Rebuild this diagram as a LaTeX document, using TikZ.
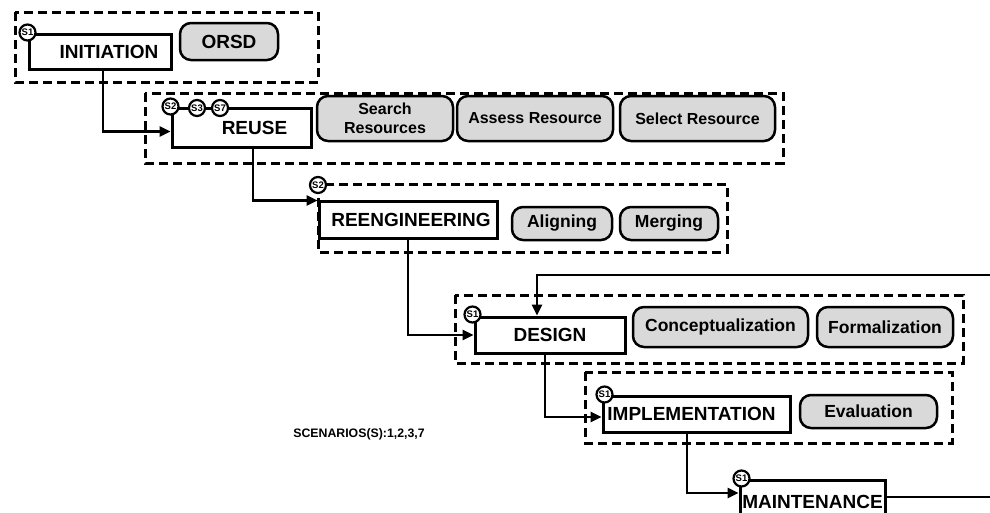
\documentclass[tikz,border=0pt]{standalone}
\usepackage{fontspec}
\setmainfont{Liberation Sans}
\usetikzlibrary{arrows.meta}
\definecolor{pillgray}{RGB}{217,217,217}
\begin{document}
\begin{tikzpicture}[x=1pt,y=-1pt,
  mainbox/.style={draw, line width=3pt, fill=white, inner sep=0pt, font=\fontsize{19}{19}\selectfont\bfseries},
  pill/.style={draw, line width=2.5pt, fill=pillgray, rounded corners=11pt, inner sep=0pt, align=center, font=\fontsize{17.5}{17.5}\selectfont\bfseries},
  pillsm/.style={pill, font=\fontsize{16}{19}\selectfont\bfseries},
  scen/.style={circle, draw, line width=2.2pt, fill=white, minimum size=16pt, inner sep=0pt, font=\fontsize{9.5}{9.5}\selectfont\bfseries},
  group/.style={draw, line width=3pt, dash pattern=on 9pt off 5pt},
  conn/.style={line width=2.5pt, -{Triangle[length=11pt,width=10pt]}}]
\useasboundingbox (0,0) rectangle (990,512);
% dashed groups
\draw[group] (15,12) rectangle (318,82);
\draw[group] (145,93) rectangle (783,163);
\draw[group] (318,184) rectangle (727,252);
\draw[group] (455,295) rectangle (963,363);
\draw[group] (585,372) rectangle (952,443);
% main boxes
\node[mainbox, minimum width=142, minimum height=35] (init) at (100,51.5) {\hspace*{18pt}INITIATION};
\node[mainbox, minimum width=139, minimum height=39] (reuse) at (241.5,127.5) {\hspace*{26pt}REUSE};
\node[mainbox, minimum width=178, minimum height=37] (reeng) at (408,219.5) {\hspace*{6pt}REENGINEERING};
\node[mainbox, minimum width=150, minimum height=36] (design) at (550,335) {DESIGN};
\node[mainbox, minimum width=187, minimum height=36] (impl) at (696.5,414) {IMPLEMENTATION\hspace*{10pt}};
\node[mainbox, minimum width=145, minimum height=44] (maint) at (812.5,502) {MAINTENANCE};
% activity pills
\node[pill, font=\fontsize{19}{19}\selectfont\bfseries, minimum width=98, minimum height=37] (orsd) at (229,41.5) {ORSD};
\node[pillsm, minimum width=136, minimum height=45] (search) at (385,118.5) {Search\\Resources};
\node[pillsm, minimum width=156, minimum height=45] (assess) at (535,118.5) {Assess Resource};
\node[pillsm, minimum width=155, minimum height=45] (select) at (697.5,118.5) {Select Resource};
\node[pill, minimum width=100, minimum height=33] (align) at (562,223.5) {Aligning};
\node[pill, minimum width=98, minimum height=33] (merge) at (669,223.5) {Merging};
\node[pill, minimum width=175, minimum height=40] (concept) at (720.5,327) {Conceptualization};
\node[pill, minimum width=136, minimum height=40] (formal) at (885,327) {Formalization};
\node[pill, minimum width=137, minimum height=33] (eval) at (868.5,411.5) {Evaluation};
% scenario markers
\node[scen] (s1a) at (init.north west) {S1};
\node[scen] (s2a) at (reuse.north west) {S2};
\node[scen] (s3a) at (197,108) {S3};
\node[scen] (s7a) at (220,108) {S7};
\node[scen] (s2b) at (318,185) {S2};
\node[scen] (s1b) at ([xshift=-1pt,yshift=1pt]design.north west) {S1};
\node[scen] (s1c) at ([xshift=3pt]impl.north west) {S1};
\node[scen] (s1d) at ([xshift=3pt]maint.north west) {S1};
% connectors
\draw[conn] ([xshift=3pt]init.south) |- ([yshift=-4pt]reuse.west);
\draw[conn] ([xshift=11.5pt]reuse.south) |- ([yshift=-1pt]reeng.north west);
\draw[conn] (reeng.south) |- (design.west);
\draw[conn] ([xshift=-5pt]design.south) |- ([yshift=-3pt]impl.west);
\draw[conn] ([xshift=-9.5pt]impl.south) |- ([yshift=9pt]maint.west);
\coordinate (fb1) at (1000,497);
\coordinate (fb2) at (1000,275);
\draw[conn] ([yshift=5pt]maint.east) -- (fb1) -- (fb2) -| ([xshift=-13pt]design.north);
% legend
\node[font=\fontsize{12.3}{12.3}\selectfont\bfseries] (scenlabel) at (359,434) {SCENARIOS(S):1,2,3,7};
\end{tikzpicture}
\end{document}
